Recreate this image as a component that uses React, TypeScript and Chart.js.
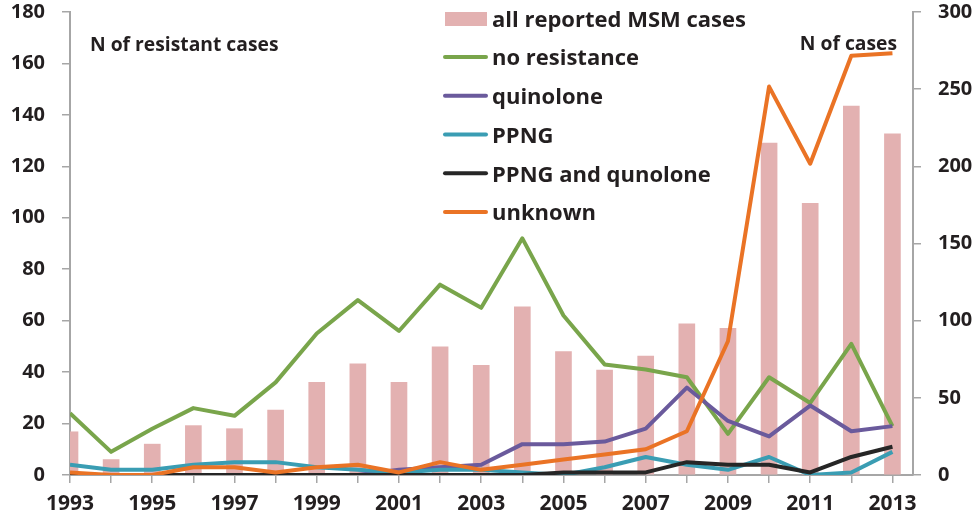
import React, { useEffect, useRef } from 'react';
import { Chart, registerables } from 'chart.js';

Chart.register(...registerables);

const years = [1993, 1994, 1995, 1996, 1997, 1998, 1999, 2000, 2001, 2002, 2003, 2004, 2005, 2006, 2007, 2008, 2009, 2010, 2011, 2012, 2013];
const allReported = [28, 10, 20, 32, 30, 42, 60, 72, 60, 83, 71, 109, 80, 68, 77, 98, 95, 215, 176, 239, 221];
const noResistance = [24, 9, 18, 26, 23, 36, 55, 68, 56, 74, 65, 92, 62, 43, 41, 38, 16, 38, 28, 51, 19];
const quinolone = [0, 0, 0, 0, 0, 0, 0, 0, 2, 3, 4, 12, 12, 13, 18, 34, 21, 15, 27, 17, 19];
const ppng = [4, 2, 2, 4, 5, 5, 3, 2, 1, 2, 2, 1, 0, 3, 7, 4, 2, 7, 0, 1, 9];
const ppngQuinolone = [0, 0, 0, 0, 0, 0, 0, 0, 0, 0, 0, 0, 1, 1, 1, 5, 4, 4, 1, 7, 11];
const unknown = [1, 0, 0, 3, 3, 1, 3, 4, 1, 5, 2, 4, 6, 8, 10, 17, 52, 151, 121, 163, 164];

const leftTicks = { min: 0, max: 180, step: 20 };
const rightTicks = { min: 0, max: 300, step: 50 };
const leftTitle = 'N of resistant cases';
const rightTitle = 'N of cases';

const TEXT = '#231f20';
const AXIS = '#a6a6a6';
const FONT = '"Open Sans", "DejaVu Sans", sans-serif';

const pts = (arr: number[]) => years.map((y, i) => ({ x: y, y: arr[i] }));

const lineDs = (label: string, arr: number[], color: string, order: number) => ({
  type: 'line' as const,
  label,
  data: pts(arr),
  borderColor: color,
  backgroundColor: color,
  borderWidth: 4,
  pointRadius: 0,
  tension: 0,
  borderJoinStyle: 'round' as const,
  yAxisID: 'y',
  xAxisID: 'x',
  order,
});

const overlayPlugin = {
  id: 'overlay',
  afterDraw(chart: any) {
    const ctx = chart.ctx as CanvasRenderingContext2D;
    ctx.save();
    ctx.fillStyle = TEXT;
    ctx.textBaseline = 'alphabetic';
    // axis titles
    ctx.font = `bold 19.3px ${FONT}`;
    ctx.textAlign = 'left';
    ctx.fillText(leftTitle, 90, 51);
    ctx.textAlign = 'right';
    ctx.fillText(rightTitle, 897, 49.5);
    // legend
    ctx.font = `bold 22px ${FONT}`;
    ctx.textAlign = 'left';
    const ds = chart.data.datasets;
    ds.forEach((d: any, i: number) => {
      const base = 26.7 + i * 38.7;
      if (d.type === 'bar') {
        ctx.fillStyle = d.backgroundColor;
        ctx.fillRect(445, 12, 42, 14);
      } else {
        ctx.strokeStyle = d.borderColor;
        ctx.lineWidth = 4;
        ctx.lineCap = 'round';
        ctx.beginPath();
        ctx.moveTo(445, base - 8.3);
        ctx.lineTo(486, base - 8.3);
        ctx.stroke();
      }
      ctx.fillStyle = TEXT;
      ctx.fillText(d.label, 492, base);
    });
    ctx.restore();
  },
};

export default function App() {
  const ref = useRef<HTMLCanvasElement | null>(null);
  useEffect(() => {
    document.body.style.margin = '0';
    const canvas = ref.current;
    if (!canvas) return;
    const tickFont = { family: FONT, weight: 'bold' as const, size: 20 };
    const chart = new Chart(canvas, {
      type: 'bar',
      data: {
        datasets: [
          {
            type: 'bar',
            label: 'all reported MSM cases',
            data: pts(allReported),
            backgroundColor: '#e3b1b1',
            barThickness: 16,
            yAxisID: 'y1',
            xAxisID: 'x',
            order: 10,
          } as any,
          lineDs('no resistance', noResistance, '#79a54b', 5),
          lineDs('quinolone', quinolone, '#6a5a9c', 4),
          lineDs('PPNG', ppng, '#3a9db3', 3),
          lineDs('PPNG and qunolone', ppngQuinolone, '#262626', 2),
          lineDs('unknown', unknown, '#ea7325', 1),
        ],
      },
      options: {
        animation: false,
        responsive: false,
        maintainAspectRatio: false,
        layout: { padding: { top: 12, left: 0, right: 0, bottom: 0 } },
        plugins: { legend: { display: false }, tooltip: { enabled: false } },
        scales: {
          x: {
            type: 'linear',
            min: years[0],
            max: years[years.length - 1] + 0.5,
            offset: false,
            afterBuildTicks: (s: any) => {
              s.ticks = years.map((v) => ({ value: v }));
            },
            afterFit: (s: any) => {
              s.height = 44;
              s.paddingLeft = 0;
              s.paddingRight = 0;
            },
            ticks: {
              autoSkip: false,
              maxRotation: 0,
              padding: 8,
              color: TEXT,
              font: { family: FONT, weight: 'bold', size: 21 },
              callback: (v: any) => ((Number(v) - years[0]) % 2 === 0 ? String(v) : ''),
            },
            grid: { drawOnChartArea: false, drawTicks: true, tickLength: 8, color: AXIS, lineWidth: 1.5, offset: false },
            border: { color: AXIS, width: 2 },
          },
          y: {
            position: 'left',
            min: leftTicks.min,
            max: leftTicks.max,
            afterFit: (s: any) => {
              s.width = 70;
              s.paddingTop = 0;
              s.paddingBottom = 0;
            },
            ticks: { stepSize: leftTicks.step, padding: 17, color: TEXT, font: tickFont },
            grid: { drawOnChartArea: false, drawTicks: true, tickLength: 8, color: AXIS, lineWidth: 1.5 },
            border: { color: AXIS, width: 2 },
          },
          y1: {
            position: 'right',
            min: rightTicks.min,
            max: rightTicks.max,
            afterFit: (s: any) => {
              s.width = 66;
              s.paddingTop = 0;
              s.paddingBottom = 0;
            },
            ticks: { stepSize: rightTicks.step, padding: 17, color: TEXT, font: tickFont },
            grid: { drawOnChartArea: false, drawTicks: true, tickLength: 8, color: AXIS, lineWidth: 1.5 },
            border: { color: AXIS, width: 2 },
          },
        },
      } as any,
      plugins: [overlayPlugin],
    });
    return () => chart.destroy();
  }, []);
  return (
    <div style={{ width: 979, height: 519 }}>
      <canvas ref={ref} width={979} height={519} style={{ display: 'block' }} />
    </div>
  );
}
